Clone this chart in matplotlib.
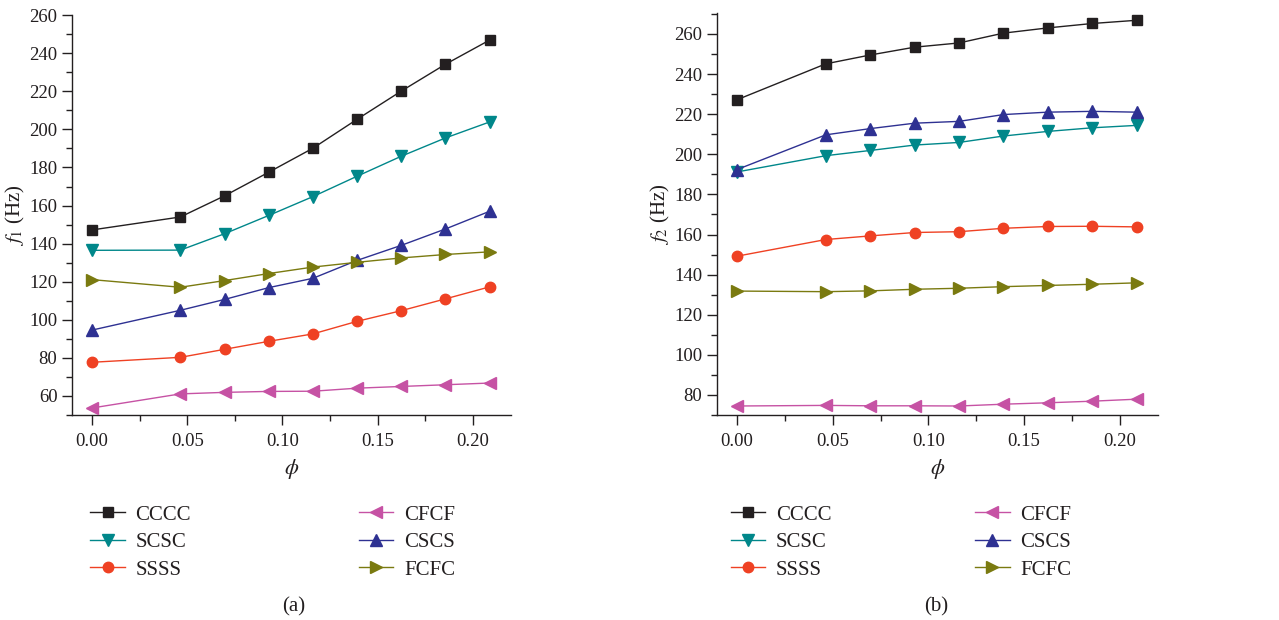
import matplotlib
matplotlib.use("Agg")
import matplotlib.pyplot as plt
from matplotlib.ticker import MultipleLocator

plt.rcParams['font.family'] = ['Liberation Serif', 'DejaVu Serif']
plt.rcParams['mathtext.fontset'] = 'stix'

phi = [0.0, 0.0464, 0.0696, 0.0928, 0.1160, 0.1392, 0.1624, 0.1856, 0.2088]

labels = ['CCCC', 'SCSC', 'SSSS', 'CFCF', 'CSCS', 'FCFC']
colors = ['#231f20', '#00878a', '#ef4123', '#c652a4', '#2e3192', '#7a7a10']
markers = ['s', 'v', 'o', '<', '^', '>']

f1 = {
    'CCCC': [147.2, 154.0, 165.1, 177.5, 190.1, 205.3, 220.1, 234.2, 246.9],
    'SCSC': [136.5, 136.6, 145.2, 154.8, 164.7, 175.4, 185.9, 195.5, 203.9],
    'SSSS': [77.7, 80.3, 84.5, 88.7, 92.6, 99.2, 104.8, 111.0, 117.3],
    'CFCF': [53.7, 61.1, 61.9, 62.4, 62.5, 64.1, 65.0, 65.9, 66.8],
    'CSCS': [94.6, 105.0, 110.7, 116.9, 121.8, 131.2, 139.1, 147.7, 157.0],
    'FCFC': [121.1, 117.1, 120.6, 124.3, 127.7, 130.2, 132.5, 134.3, 135.7],
}
f2 = {
    'CCCC': [227.2, 245.1, 249.5, 253.4, 255.5, 260.4, 263.0, 265.2, 266.8],
    'SCSC': [191.2, 199.3, 201.9, 204.6, 205.9, 209.1, 211.4, 213.2, 214.4],
    'SSSS': [149.2, 157.5, 159.3, 161.0, 161.4, 163.1, 164.0, 164.1, 163.8],
    'CFCF': [74.5, 74.8, 74.6, 74.6, 74.5, 75.4, 76.1, 76.9, 77.9],
    'CSCS': [192.4, 209.7, 212.8, 215.5, 216.4, 219.8, 221.0, 221.4, 221.0],
    'FCFC': [131.8, 131.5, 131.9, 132.7, 133.2, 134.0, 134.6, 135.2, 135.9],
}

fig = plt.figure(figsize=(12.79, 6.2), dpi=100)
ax1 = fig.add_axes([0.0563, 0.3306, 0.3432, 0.645])
ax2 = fig.add_axes([0.5606, 0.3306, 0.3448, 0.648])

def style(ax, data, ylim, ylab, yticks):
    for lab, c, m in zip(labels, colors, markers):
        ms = 7.5 if m in ('s', 'o') else 8.5
        ax.plot(phi, data[lab], color=c, marker=m, markersize=ms, linewidth=1.0,
                label=lab, clip_on=False, zorder=3)
    ax.set_xlim(-0.0105, 0.22)
    ax.set_ylim(*ylim)
    ax.set_xticks([0.0, 0.05, 0.10, 0.15, 0.20])
    ax.set_xticklabels(['0.00', '0.05', '0.10', '0.15', '0.20'])
    ax.set_yticks(yticks)
    ax.xaxis.set_minor_locator(MultipleLocator(0.025))
    ax.yaxis.set_minor_locator(MultipleLocator(10))
    ax.spines['top'].set_visible(False)
    ax.spines['right'].set_visible(False)
    for s in ('left', 'bottom'):
        ax.spines[s].set_linewidth(1.0)
        ax.spines[s].set_color('#231f20')
    ax.tick_params(which='major', direction='out', length=7, width=1.0,
                   labelsize=13.5, colors='#231f20')
    ax.tick_params(axis='x', which='major', pad=6)
    ax.tick_params(which='minor', direction='out', length=4, width=1.0, colors='#231f20')
    ax.set_xlabel(r'$\phi$', fontsize=16, color='#231f20', labelpad=5)
    ax.set_ylabel(ylab, fontsize=15, color='#231f20', labelpad=2)

style(ax1, f1, (50, 260), r'$f_1$ (Hz)', list(range(60, 261, 20)))
style(ax2, f2, (70, 270.3), r'$f_2$ (Hz)', list(range(80, 261, 20)))

for ax, x0, cs in ((ax1, 0.0625, 8.05), (ax2, 0.5632, 6.9)):
    leg = fig.legend(*ax.get_legend_handles_labels(), ncol=2,
                     loc='upper left', bbox_to_anchor=(x0, 0.202),
                     frameon=False, fontsize=15, handlelength=1.65,
                     handletextpad=0.52, labelspacing=0.38,
                     columnspacing=cs, borderpad=0)
    for t in leg.get_texts():
        t.set_color('#231f20')

fig.text(0.2299, 0.006, '(a)', ha='center', va='bottom', fontsize=15, color='#231f20')
fig.text(0.7318, 0.006, '(b)', ha='center', va='bottom', fontsize=15, color='#231f20')

fig.savefig('out.png', dpi=100)
